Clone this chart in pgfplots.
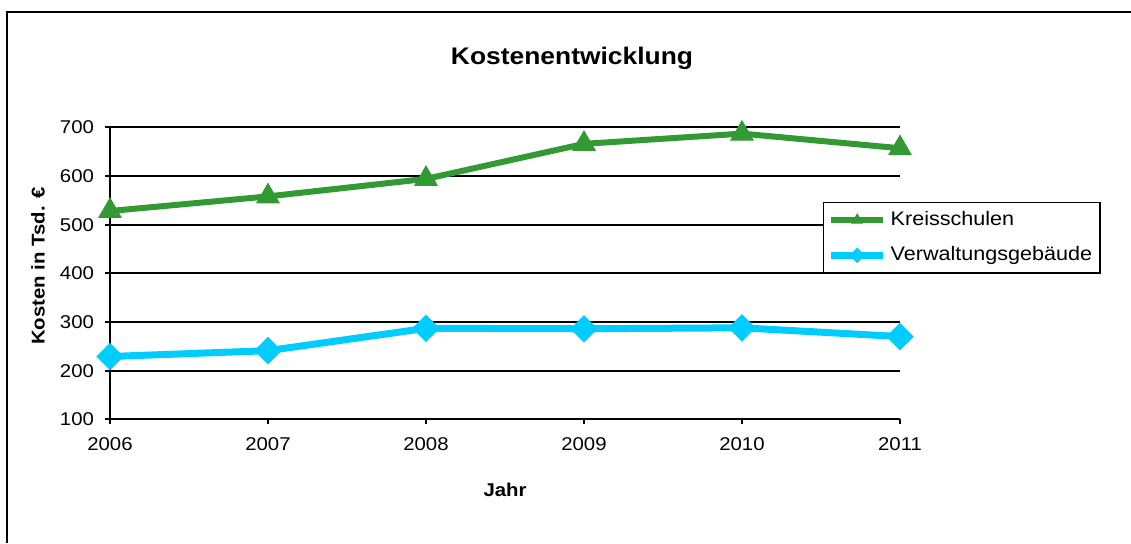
\documentclass[border=0pt]{standalone}
\usepackage{fontspec}
\setmainfont{Liberation Sans}[FakeStretch=1.1]
\usepackage{pgfplots}
\pgfplotsset{compat=1.18}
\definecolor{kgreen}{HTML}{339933}
\definecolor{vcyan}{HTML}{00CCFF}
\begin{document}
\begin{tikzpicture}[x=0.5pt,y=0.5pt]
\useasboundingbox (0,0) rectangle (1131,543);
\draw[line width=1.3pt] (7,0) -- (7,531) -- (1131,531);
\node[font=\fontsize{12}{14}\selectfont\bfseries] at (572,485) {Kostenentwicklung};
\begin{axis}[
  at={(55pt,61.85pt)}, anchor=south west,
  scale only axis, width=395pt, height=146pt,
  xmin=2006, xmax=2011, ymin=100, ymax=700,
  xtick={2006,2007,2008,2009,2010,2011},
  ytick={100,200,300,400,500,600,700},
  axis x line*=bottom, axis y line*=left,
  axis line style={black, line width=1pt},
  ymajorgrids, grid style={black, line width=1pt},
  tick align=outside, major tick length=2.5pt,
  tick style={black, line width=1pt},
  clip=false,
  /pgf/number format/assume math mode=true,
  /pgf/number format/1000 sep={},
  ticklabel style={font=\fontsize{9.25}{11}\selectfont},
  xticklabel style={yshift=-3pt},
  yticklabel style={xshift=-2pt},
  xlabel={\bfseries Jahr},
  ylabel={\bfseries Kosten in Tsd. €},
  label style={font=\fontsize{9.25}{11}\selectfont},
  xlabel style={at={(axis description cs:0.5,-0.242)}, anchor=center},
  ylabel style={at={(axis description cs:-0.091,0.525)}, anchor=center},
  legend style={at={(rel axis cs:0.9025,0.745)}, anchor=north west,
    draw=black, line width=0.75pt, font=\fontsize{9.8}{11}\selectfont,
    inner xsep=2pt, inner ysep=2.5pt, row sep=5pt, cells={anchor=west}},
  legend image code/.code={\draw[mark repeat=2,mark phase=2,#1] plot coordinates {(0pt,0pt) (13pt,0pt) (26pt,0pt)};},
]
\addplot[color=kgreen, line width=3pt, mark=triangle*, mark size=6.4pt,
  mark options={line width=0.5pt}, legend image post style={mark size=3pt}]
  coordinates {(2006,528) (2007,558) (2008,594) (2009,666) (2010,687) (2011,657)};
\addlegendentry{Kreisschulen}
\addplot[color=vcyan, line width=3.5pt, mark=square*, mark size=4.6pt,
  mark options={rotate=45, line width=0.5pt}, legend image post style={mark size=2.5pt}]
  coordinates {(2006,229) (2007,241) (2008,287) (2009,286) (2010,288) (2011,270)};
\addlegendentry{Verwaltungsgebäude}
\end{axis}
\end{tikzpicture}
\end{document}
